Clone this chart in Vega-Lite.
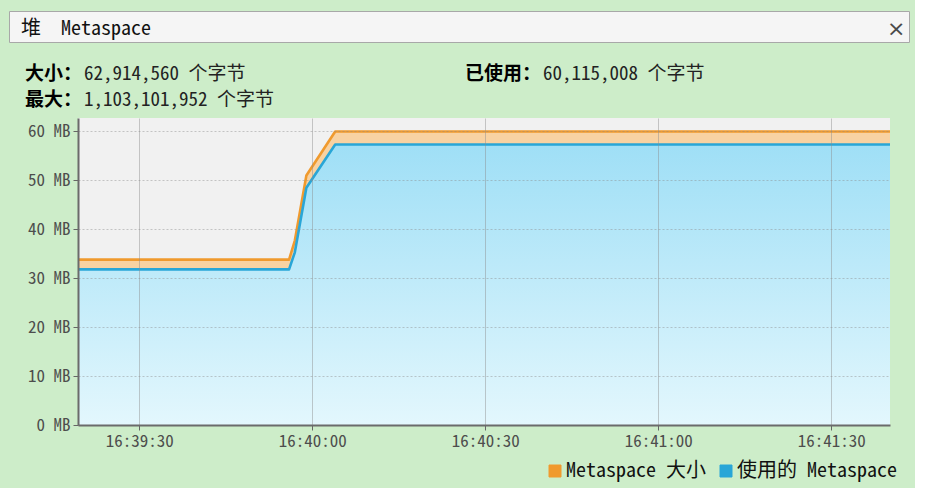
{
  "$schema": "https://vega.github.io/schema/vega-lite/v6.json",
  "background": "#CDEDC9",
  "padding": {"left": 8, "top": 10, "right": 5, "bottom": 7},
  "config": {
    "view": {"stroke": null},
    "font": "Noto Sans Mono CJK SC, Liberation Mono, Noto Sans CJK SC"
  },
  "title": {"text": "×", "anchor": "end", "frame": "bounds", "orient": "top", "offset": -30, "dx": -4, "fontSize": 22, "fontWeight": "normal", "color": "#4a4a4a", "font": "DejaVu Sans"},
  "spacing": 0,
  "vconcat": [
    {
      "width": 900,
      "height": 31,
      "view": {"fill": "#F5F5F5", "stroke": "#A8A8A8"},
      "title": {"text": "堆\u00a0\u00a0Metaspace", "anchor": "start", "frame": "group", "offset": -28, "dx": 12, "fontSize": 20, "fontWeight": "normal", "color": "#111", "font": "Noto Sans Mono CJK SC, Liberation Mono, Noto Sans CJK SC"},
      "data": {"values": [{}]},
      "mark": {"type": "point", "opacity": 0}
    },
    {
      "width": 605,
      "height": 75,
      "data": {"values": [
        {"col": "L", "row": "1", "label": "大小：", "value": "62,914,560 个字节"},
        {"col": "L", "row": "2", "label": "最大：", "value": "1,103,101,952 个字节"},
        {"col": "R", "row": "1", "label": "已使用：", "value": "60,115,008 个字节"}
      ]},
      "encoding": {
        "x": {"field": "col", "type": "nominal", "scale": {"type": "point", "domain": ["L", "R"], "padding": 0.159}, "axis": null},
        "y": {"field": "row", "type": "nominal", "scale": {"type": "band", "domain": ["1", "2"], "paddingInner": 0, "paddingOuter": 0.47}, "bandPosition": 0.76, "axis": null}
      },
      "layer": [
        {"mark": {"type": "text", "align": "right", "baseline": "middle", "font": "Noto Sans CJK SC", "fontWeight": "bold", "fontSize": 19, "color": "#000"}, "encoding": {"text": {"field": "label"}}},
        {"mark": {"type": "text", "align": "left", "baseline": "middle", "dx": 2, "font": "Noto Sans Mono CJK SC, Liberation Mono, Noto Sans CJK SC", "fontSize": 19, "color": "#222"}, "encoding": {"text": {"field": "value"}}}
      ]
    },
    {
      "spacing": 0,
      "hconcat": [
        {"width": 2, "height": 1, "data": {"values": []}, "mark": "rect"},
        {
          "width": 812,
          "height": 307,
          "view": {"fill": "#F1F1F1", "stroke": null},
          "data": {"values": [
            {"t": "2024-01-01T16:39:19.400", "size": 33.8, "used": 31.8},
            {"t": "2024-01-01T16:39:56.000", "size": 33.8, "used": 31.8},
            {"t": "2024-01-01T16:39:57.000", "size": 37.7, "used": 35.3},
            {"t": "2024-01-01T16:39:59.000", "size": 51.0, "used": 48.5},
            {"t": "2024-01-01T16:40:04.000", "size": 60.0, "used": 57.33},
            {"t": "2024-01-01T16:41:40.200", "size": 60.0, "used": 57.33}
          ]},
          "encoding": {
            "x": {
              "field": "t", "type": "temporal", "title": null,
              "scale": {"nice": false},
              "axis": {
                "values": [
                  {"year": 2024, "month": 1, "date": 1, "hours": 16, "minutes": 39, "seconds": 30},
                  {"year": 2024, "month": 1, "date": 1, "hours": 16, "minutes": 40, "seconds": 0},
                  {"year": 2024, "month": 1, "date": 1, "hours": 16, "minutes": 40, "seconds": 30},
                  {"year": 2024, "month": 1, "date": 1, "hours": 16, "minutes": 41, "seconds": 0},
                  {"year": 2024, "month": 1, "date": 1, "hours": 16, "minutes": 41, "seconds": 30}
                ],
                "format": "%H:%M:%S",
                "grid": true, "gridColor": "#8c8c8c", "gridOpacity": 0.45, "gridWidth": 1,
                "tickSize": 5, "tickColor": "#666", "domainColor": "#6b6b6b", "domainWidth": 2,
                "labelFont": "Noto Sans Mono CJK SC, Liberation Mono", "labelFontSize": 17, "labelColor": "#4d4d4d",
                "labelPadding": 3, "labelFlush": false, "zindex": 1
              }
            }
          },
          "layer": [
            {
              "mark": {"type": "area", "color": {"gradient": "linear", "x1": 0, "y1": 0, "x2": 0, "y2": 1, "stops": [{"offset": 0, "color": "#9FDFF6"}, {"offset": 1, "color": "#E3F7FD"}]}},
              "encoding": {
                "y": {
                  "field": "used", "type": "quantitative", "title": null,
                  "scale": {"domain": [0, 62.75], "nice": false},
                  "axis": {
                    "values": [0, 10, 20, 30, 40, 50, 60],
                    "labelExpr": "datum.value + ' MB'",
                    "grid": true, "gridDash": [2, 2], "gridColor": "#8c8c8c", "gridOpacity": 0.45,
                    "tickSize": 5, "tickColor": "#666", "domainColor": "#6b6b6b", "domainWidth": 2,
                    "labelFont": "Noto Sans Mono CJK SC, Liberation Mono", "labelFontSize": 17, "labelColor": "#4d4d4d",
                    "labelPadding": 3, "minExtent": 67, "maxExtent": 67, "zindex": 1
                  }
                }
              }
            },
            {
              "mark": {"type": "area", "color": "#F8D2A2"},
              "encoding": {
                "y": {"field": "size", "type": "quantitative", "title": null},
                "y2": {"field": "used"}
              }
            },
            {
              "mark": {"type": "line", "strokeWidth": 2.6, "strokeJoin": "round"},
              "encoding": {
                "y": {"field": "size", "type": "quantitative", "title": null},
                "color": {
                  "datum": "Metaspace 大小",
                  "scale": {"domain": ["Metaspace 大小", "使用的 Metaspace"], "range": ["#F09A2E", "#29A6D7"]},
                  "legend": {
                    "title": null, "orient": "none", "legendX": 536, "legendY": 450, "direction": "horizontal", "columns": 2,
                    "symbolType": "square", "symbolSize": 144, "symbolStrokeColor": "#333", "symbolStrokeWidth": 1,
                    "labelFont": "Noto Sans Mono CJK SC, Liberation Mono, Noto Sans CJK SC", "labelFontSize": 20, "labelColor": "#111",
                    "labelOffset": 1, "columnPadding": 10, "padding": 0,
                    "encode": {"symbols": {"update": {"fill": {"scale": "color", "field": "value"}, "fillOpacity": {"value": 1}}}}
                  }
                }
              }
            },
            {
              "mark": {"type": "line", "strokeWidth": 2.6, "strokeJoin": "round"},
              "encoding": {
                "y": {"field": "used", "type": "quantitative", "title": null},
                "color": {"datum": "使用的 Metaspace"}
              }
            }
          ]
        }
      ]
    }
  ]
}
